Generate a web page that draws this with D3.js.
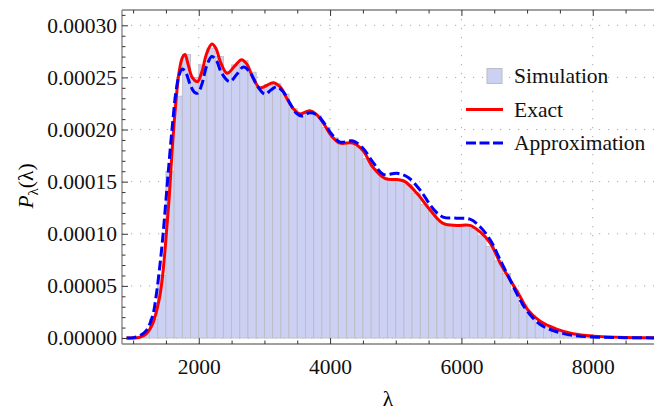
<!DOCTYPE html>
<html>
<head>
<meta charset="utf-8">
<script src="https://cdn.jsdelivr.net/npm/d3@7"></script>
<style>
  body { margin: 0; background: #fff; }
  text { font-family: "Liberation Serif", "DejaVu Serif", serif; }
</style>
</head>
<body>
<div id="chart"></div>
<script>
// histogram bins (lower edges, width 125) and their heights
const binWidth = 125;
const binLefts = [1125, 1250, 1375, 1500, 1625, 1750, 1875, 2000, 2125, 2250, 2375, 2500,
  2625, 2750, 2875, 3000, 3125, 3250, 3375, 3500, 3625, 3750, 3875, 4000, 4125, 4250,
  4375, 4500, 4625, 4750, 4875, 5000, 5125, 5250, 5375, 5500, 5625, 5750, 5875, 6000,
  6125, 6250, 6375, 6500, 6625, 6750, 6875, 7000, 7125, 7250, 7375, 7500, 7625, 7750, 7875];
const simHeights = [0.000004, 0.000018, 0.000060, 0.000160, 0.000232, 0.000272, 0.000250,
  0.000262, 0.000278, 0.000270, 0.000256, 0.000262, 0.000266, 0.000255, 0.000241, 0.000243,
  0.000244, 0.000234, 0.000220, 0.000216, 0.000218, 0.000213, 0.000202, 0.000192, 0.000187,
  0.000187, 0.000183, 0.000172, 0.000162, 0.000154, 0.000152, 0.000152, 0.000147, 0.000139,
  0.000128, 0.000122, 0.000111, 0.000108, 0.000108, 0.000108, 0.000105, 0.000098, 0.000088,
  0.000074, 0.000062, 0.000046, 0.000032, 0.000022, 0.000015, 0.000010, 0.000007, 0.000005,
  0.000003, 0.000002, 0.000001];

// exact curve
const exactX = [900, 1000, 1100, 1200, 1300, 1400, 1450, 1500, 1550, 1600, 1650, 1700, 1750,
  1790, 1840, 1900, 1980, 2050, 2120, 2200, 2260, 2330, 2430, 2550, 2650, 2730, 2830, 2930,
  3030, 3130, 3240, 3340, 3440, 3540, 3690, 3800, 3900, 4020, 4150, 4350, 4500, 4650, 4840,
  5020, 5140, 5320, 5520, 5720, 5930, 6130, 6280, 6440, 6590, 6740, 6900, 7000, 7200, 7450,
  7700, 8000, 8500, 9000];
const exactY = [0, 0, 0.0000007, 0.000004, 0.000014, 0.000038, 0.000060, 0.000095, 0.000135,
  0.000185, 0.000225, 0.000255, 0.000269, 0.000272, 0.000262, 0.000250, 0.000246, 0.000256,
  0.000273, 0.000282, 0.000278, 0.000265, 0.000254, 0.000261, 0.000267, 0.000263, 0.000249,
  0.000240, 0.000242, 0.000245, 0.000241, 0.000230, 0.000220, 0.000215, 0.000218, 0.000214,
  0.000206, 0.000194, 0.000187, 0.000187, 0.000180, 0.000164, 0.000153, 0.000152, 0.000150,
  0.000139, 0.000123, 0.000110, 0.000108, 0.000108, 0.000102, 0.000091, 0.000072, 0.000056,
  0.000039, 0.000028, 0.000016, 0.0000085, 0.000004, 0.0000018, 0.0000005, 0.0000002];

// approximation curve
const approxX = [900, 1000, 1100, 1200, 1300, 1350, 1400, 1450, 1500, 1550, 1600, 1650, 1700,
  1750, 1800, 1870, 1930, 1985, 2050, 2120, 2200, 2270, 2350, 2470, 2580, 2680, 2780, 2900,
  3010, 3100, 3190, 3290, 3390, 3480, 3570, 3690, 3800, 3900, 4020, 4150, 4350, 4500, 4660,
  4810, 5020, 5190, 5370, 5570, 5720, 5930, 6130, 6280, 6440, 6590, 6740, 6890, 7000, 7200,
  7450, 7700, 8000, 8500, 9000];
const approxY = [0, 0.0000003, 0.000002, 0.000007, 0.000022, 0.000040, 0.000065, 0.000095,
  0.000132, 0.000170, 0.000205, 0.000235, 0.000252, 0.000258, 0.000255, 0.000243, 0.000236,
  0.000235, 0.000244, 0.000261, 0.000270, 0.000266, 0.000254, 0.000246, 0.000253, 0.000260,
  0.000255, 0.000241, 0.000234, 0.000238, 0.000241, 0.000236, 0.000225, 0.000216, 0.000213,
  0.000216, 0.000214, 0.000207, 0.000196, 0.000188, 0.000189, 0.000182, 0.000168, 0.000157,
  0.000158, 0.000154, 0.000142, 0.000124, 0.000116, 0.000115, 0.000114, 0.000107, 0.000094,
  0.000075, 0.000056, 0.000037, 0.000026, 0.000013, 0.000006, 0.0000025, 0.000001, 0.0000003,
  0.0000001];

const xMajor = [2000, 4000, 6000, 8000];
const xMinor = [1000, 1500, 2500, 3000, 3500, 4500, 5000, 5500, 6500, 7000, 7500, 8500];
const yMajor = [0, 0.00005, 0.0001, 0.00015, 0.0002, 0.00025, 0.0003];
const yMinor = [0.00001, 0.00002, 0.00003, 0.00004, 0.00006, 0.00007, 0.00008, 0.00009,
  0.00011, 0.00012, 0.00013, 0.00014, 0.00016, 0.00017, 0.00018, 0.00019, 0.00021, 0.00022,
  0.00023, 0.00024, 0.00026, 0.00027, 0.00028, 0.00029, 0.00031];

const legendItems = ['Simulation', 'Exact', 'Approximation'];

// layout
const width = 654;
const height = 411;
const plot = { left: 122, right: 654, top: 10, bottom: 344 };
const serif = '"Liberation Serif", "DejaVu Serif", serif';

const svg = d3.select('#chart')
  .append('svg')
  .attr('width', width)
  .attr('height', height);

const x = d3.scaleLinear()
  .domain([831, 8933])
  .range([plot.left, plot.right]);

const y = d3.scaleLinear()
  .domain([0, 0.0003])
  .range([338, 25.3]);

svg.append('clipPath').attr('id', 'clip')
  .append('rect')
  .attr('x', plot.left).attr('y', plot.top)
  .attr('width', plot.right - plot.left).attr('height', plot.bottom - plot.top);

// grid
const grid = svg.append('g')
  .attr('stroke', '#a8a8a8')
  .attr('stroke-width', 1)
  .attr('stroke-dasharray', '1.2,7.8');
grid.selectAll('line.v')
  .data(xMajor)
  .enter()
  .append('line')
  .attr('x1', d => x(d)).attr('x2', d => x(d))
  .attr('y1', plot.top).attr('y2', plot.bottom);
grid.selectAll('line.h')
  .data(yMajor)
  .enter()
  .append('line')
  .attr('x1', plot.left).attr('x2', plot.right)
  .attr('y1', d => y(d)).attr('y2', d => y(d));

const area = svg.append('g').attr('clip-path', 'url(#clip)');

// histogram bars
area.selectAll('rect.bar')
  .data(binLefts.map((b, i) => ({ x0: b, x1: b + binWidth, h: simHeights[i] })))
  .enter()
  .append('rect')
  .attr('x', d => x(d.x0))
  .attr('width', d => x(d.x1) - x(d.x0))
  .attr('y', d => y(d.h))
  .attr('height', d => y(0) - y(d.h))
  .attr('fill', '#ccd1f4')
  .attr('stroke', '#bcbcc4')
  .attr('stroke-width', 0.9);

const line = d3.line()
  .x(d => x(d[0]))
  .y(d => y(d[1]))
  .curve(d3.curveCatmullRom.alpha(0.5));

area.append('path')
  .datum(exactX.map((v, i) => [v, exactY[i]]))
  .attr('d', line)
  .attr('fill', 'none')
  .attr('stroke', '#ff0000')
  .attr('stroke-width', 3);

area.append('path')
  .datum(approxX.map((v, i) => [v, approxY[i]]))
  .attr('d', line)
  .attr('fill', 'none')
  .attr('stroke', '#0000ff')
  .attr('stroke-width', 3)
  .attr('stroke-dasharray', '10,4');

// axes (ticks point inward, like a Mathematica frame)
function styleAxis(g) {
  g.attr('font-family', serif).attr('font-size', 21.5);
  g.select('.domain').attr('stroke', '#808080').attr('stroke-width', 1.3);
  g.selectAll('.tick line').attr('stroke', '#333');
  g.selectAll('.tick text').attr('fill', '#111');
}

svg.append('g')
  .attr('transform', `translate(0,${plot.bottom})`)
  .call(d3.axisBottom(x).tickValues(xMajor).tickSize(-6).tickSizeOuter(0)
    .tickPadding(15).tickFormat(d3.format('d')))
  .call(styleAxis)
  .call(g => g.select('.domain').attr('d', `M${plot.left},0H${plot.right}`));

svg.append('g')
  .attr('transform', `translate(0,${plot.bottom})`)
  .call(d3.axisBottom(x).tickValues(xMinor).tickSize(-3.5).tickFormat(''))
  .call(styleAxis)
  .call(g => g.select('.domain').remove());

svg.append('g')
  .attr('transform', `translate(0,${plot.top})`)
  .call(d3.axisTop(x).tickValues(xMajor).tickSize(-6).tickSizeOuter(0).tickFormat(''))
  .call(styleAxis)
  .call(g => g.select('.domain').attr('d', `M${plot.left},0H${plot.right}`));

svg.append('g')
  .attr('transform', `translate(0,${plot.top})`)
  .call(d3.axisTop(x).tickValues(xMinor).tickSize(-3.5).tickFormat(''))
  .call(styleAxis)
  .call(g => g.select('.domain').remove());

svg.append('g')
  .attr('transform', `translate(${plot.left},0)`)
  .call(d3.axisLeft(y).tickValues(yMajor).tickSize(-6).tickSizeOuter(0)
    .tickPadding(5).tickFormat(d3.format('.5f')))
  .call(styleAxis)
  .call(g => g.select('.domain').attr('d', `M0,${plot.top}V${plot.bottom}`));

svg.append('g')
  .attr('transform', `translate(${plot.left},0)`)
  .call(d3.axisLeft(y).tickValues(yMinor).tickSize(-3.5).tickFormat(''))
  .call(styleAxis)
  .call(g => g.select('.domain').remove());

// axis titles
svg.append('text')
  .attr('x', 388)
  .attr('y', 406)
  .attr('text-anchor', 'middle')
  .attr('font-family', serif)
  .attr('font-size', 21.5)
  .text('λ');

const yTitle = svg.append('text')
  .attr('transform', 'translate(33,186) rotate(-90)')
  .attr('text-anchor', 'middle')
  .attr('font-family', serif)
  .attr('font-size', 21.5);
yTitle.append('tspan').style('font-style', 'italic').text('P');
yTitle.append('tspan').attr('dy', 5).attr('font-size', 15).text('λ');
yTitle.append('tspan').attr('dy', -5).text('(λ)');

// legend
const legend = svg.append('g');
const rows = [76, 109.5, 143];
legend.append('rect')
  .attr('x', 487).attr('y', rows[0] - 7.5)
  .attr('width', 15).attr('height', 15)
  .attr('fill', '#ccd1f4')
  .attr('stroke', '#bcbcc4');
legend.append('line')
  .attr('x1', 466).attr('x2', 503)
  .attr('y1', rows[1]).attr('y2', rows[1])
  .attr('stroke', '#ff0000').attr('stroke-width', 3);
legend.append('line')
  .attr('x1', 466).attr('x2', 503)
  .attr('y1', rows[2]).attr('y2', rows[2])
  .attr('stroke', '#0000ff').attr('stroke-width', 3)
  .attr('stroke-dasharray', '10,3.5');
legend.selectAll('text')
  .data(legendItems)
  .enter()
  .append('text')
  .attr('x', 514)
  .attr('y', (d, i) => rows[i])
  .attr('dy', '0.33em')
  .attr('font-family', serif)
  .attr('font-size', 21.5)
  .attr('fill', '#111')
  .text(d => d);
</script>
</body>
</html>
